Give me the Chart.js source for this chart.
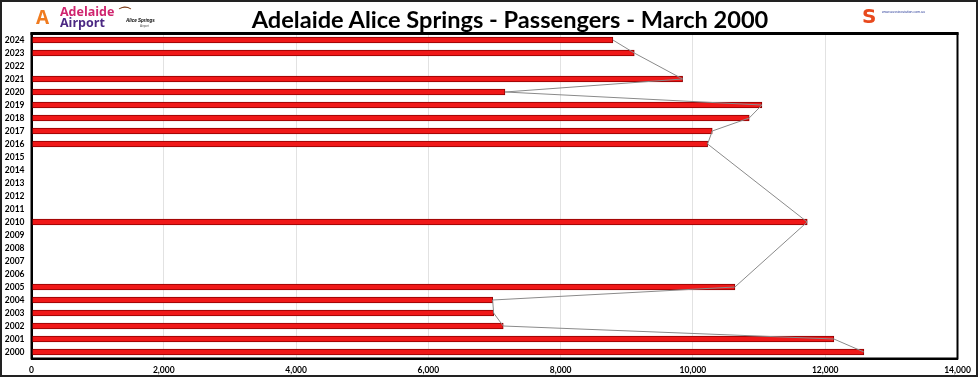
<!DOCTYPE html>
<html>
<head>
<meta charset="utf-8">
<script src="https://cdn.jsdelivr.net/npm/chart.js@4"></script>
<style>
  body { margin: 0; background: #fff; }
  #wrap { position: relative; width: 980px; height: 378px; }
  .ov { position: absolute; white-space: nowrap; }
  #title { left: 20px; width: 980px; top: 5px; text-align: center; font: bold 23.6px Lato, "Liberation Sans", sans-serif; color: #000; }
  #adl1 { left: 60px; top: 6px; font: bold 12.5px "Open Sans", sans-serif; color: #d0256f; line-height: 11px; }
  #adl2 { left: 60px; top: 17px; font: bold 12.5px "Open Sans", sans-serif; color: #4b2883; line-height: 11px; }
  #adlIcon { left: 36px; top: 8px; font: bold 19px "Open Sans", sans-serif; color: #f07b1f; line-height: 18px; }
  #asp { left: 126px; top: 18px; font: italic bold 4.5px "Liberation Sans", sans-serif; color: #000; }
  #asp2 { left: 140px; top: 24px; font: 3px "Liberation Sans", sans-serif; color: #555; }
  #swoosh { left: 118px; top: 5px; font: bold 14px "DejaVu Sans", sans-serif; color: #7a3a16; }
  #ausS { left: 862px; top: 6px; font: bold 20px "DejaVu Sans", sans-serif; color: #e8491d; line-height: 20px; }
  #ausT { left: 882px; top: 10px; font: 3.5px "Liberation Sans", sans-serif; color: #2c3e9a; }
</style>
</head>
<body>
<div id="wrap">
  <canvas id="chart" width="980" height="378"></canvas>
  <div class="ov" id="title">Adelaide Alice Springs - Passengers - March 2000</div>
  <div class="ov" id="adlIcon">A</div>
  <div class="ov" id="adl1">Adelaide</div>
  <div class="ov" id="adl2">Airport</div>
  <div class="ov" id="swoosh">⌒</div>
  <div class="ov" id="asp">Alice Springs</div>
  <div class="ov" id="asp2">Airport</div>
  <div class="ov" id="ausS">S</div>
  <div class="ov" id="ausT">www.aussieaviation.com.au</div>
</div>
<script>
// years from 2000 to 2024, gaps where there is no data
const years = ['2000', '2001', '2002', '2003', '2004', '2005', '2006', '2007', '2008', '2009',
  '2010', '2011', '2012', '2013', '2014', '2015', '2016', '2017', '2018', '2019',
  '2020', '2021', '2022', '2023', '2024'];
const passengers = [12585, 12131, 7132, 6987, 6972, 10635, null, null, null, null,
  11728, null, null, null, null, null, 10222, 10292, 10851, 11043,
  7158, 9844, null, 9113, 8790];
const xTicks = [0, 2000, 4000, 6000, 8000, 10000, 12000, 14000];

// black box round the plot area and a frame round the picture
const frames = {
  id: 'frames',
  afterDraw(chart) {
    const { ctx, chartArea: a } = chart;
    ctx.save();
    ctx.strokeStyle = '#000';
    ctx.lineWidth = 2;
    ctx.strokeRect(a.left, a.top, a.right - a.left, a.bottom - a.top);
    ctx.lineWidth = 3;
    ctx.beginPath();
    ctx.moveTo(a.left - 1, a.top);
    ctx.lineTo(a.right + 1, a.top);
    ctx.stroke();
    ctx.strokeStyle = '#222';
    ctx.lineWidth = 2;
    ctx.strokeRect(1, 1, 976, 375);
    ctx.restore();
  }
};

new Chart(document.getElementById('chart'), {
  type: 'bar',
  data: {
    labels: years,
    datasets: [
      {
        type: 'line',
        data: passengers,
        borderColor: '#8a8a8a',
        borderWidth: 1,
        pointRadius: 0,
        spanGaps: true,
        tension: 0,
        order: 0
      },
      {
        data: passengers,
        backgroundColor: '#f01818',
        borderColor: '#8e0000',
        borderWidth: 1,
        borderSkipped: false,
        barThickness: 6,
        order: 1
      }
    ]
  },
  options: {
    indexAxis: 'y',
    responsive: false,
    animation: false,
    layout: { padding: { left: 0, right: 22.5, top: 33.5, bottom: 0 } },
    plugins: { legend: { display: false }, tooltip: { enabled: false } },
    scales: {
      x: {
        min: 0,
        max: 14000,
        afterFit(scale) { scale.height = 19.5; },
        afterBuildTicks(scale) { scale.ticks = xTicks.map(v => ({ value: v })); },
        grid: { color: '#e2e2e2', drawTicks: false },
        border: { color: '#000', width: 2 },
        ticks: {
          padding: 7,
          color: '#000',
          font: { family: 'Lato', size: 8.5, weight: 'bold' },
          callback: v => v.toLocaleString('en-US')
        }
      },
      y: {
        reverse: true,
        afterFit(scale) { scale.width = 31.5; },
        grid: { display: false, drawTicks: false },
        border: { color: '#000', width: 2 },
        ticks: {
          padding: 7,
          color: '#000',
          autoSkip: false,
          font: { family: 'Lato', size: 8.5, weight: 'bold' }
        }
      }
    }
  },
  plugins: [frames]
});
</script>
</body>
</html>
